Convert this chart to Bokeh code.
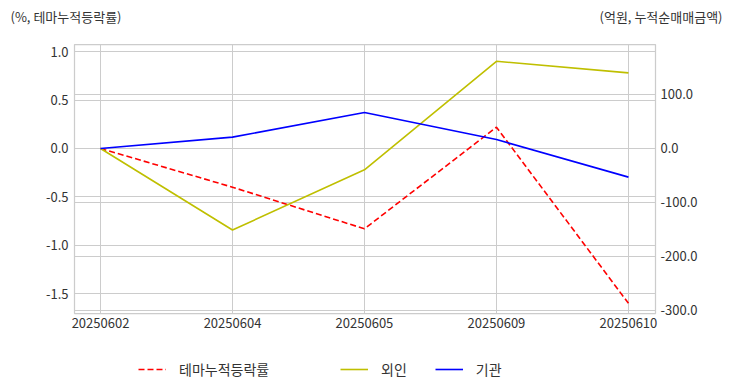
from bokeh.plotting import figure
from bokeh.layouts import column
from bokeh.models import (Range1d, LinearAxis, FixedTicker, Grid, Legend, LegendItem,
                          Label, NumeralTickFormatter, ColumnDataSource)
from bokeh.embed import file_html
from bokeh.resources import INLINE

# ---- data ----
dates = ["20250602", "20250604", "20250605", "20250609", "20250610"]
theme_ret = [0.0, -0.40, -0.83, 0.22, -1.60]        # 테마누적등락률 (%), left axis
foreign = [0.0, -151.0, -39.5, 161.5, 140.0]        # 외인 (억원), right axis
institution = [0.0, 21.0, 66.5, 16.5, -53.0]        # 기관 (억원), right axis
left_ticks = [-1.5, -1.0, -0.5, 0.0, 0.5, 1.0]
right_ticks = [-300, -200, -100, 0, 100]
left_title = "(%, 테마누적등락률)"
right_title = "(억원, 누적순매매금액)"
series_names = ["테마누적등락률", "외인", "기관"]
series_colors = ["#ff0000", "#bfbf00", "#0000ff"]
series_dash = ["6 3", "solid", "solid"]

FONT = "Noto Sans CJK KR"
TXT = "#333333"
GRID = "#cccccc"
W = 732

def strip(height):
    f = figure(width=W, height=height, output_backend="svg", toolbar_location=None,
               x_range=Range1d(0, 1), y_range=Range1d(0, 1),
               x_axis_type=None, y_axis_type=None, min_border=0,
               outline_line_color=None, border_fill_color="white",
               background_fill_color="white")
    f.frame_align = False
    f.grid.visible = False
    return f

# ---------------- top strip: axis titles ----------------
p_top = strip(40)
p_top.add_layout(Label(x=10, y=24, x_units="screen", y_units="screen", text=left_title,
                       text_font=FONT, text_font_size="13px", text_color=TXT,
                       text_baseline="middle", text_align="left"))
p_top.add_layout(Label(x=722, y=24, x_units="screen", y_units="screen", text=right_title,
                       text_font=FONT, text_font_size="13px", text_color=TXT,
                       text_baseline="middle", text_align="right"))

# ---------------- main chart ----------------
idx = list(range(len(dates)))
src = ColumnDataSource(dict(x=idx, theme=theme_ret, foreign=foreign, inst=institution))

p = figure(width=W, height=300, output_backend="svg", toolbar_location=None,
           x_range=Range1d(-0.197, len(dates) - 1 + 0.205),
           y_range=Range1d(-1.705, 1.074),
           min_border_left=74, min_border_right=77, min_border_top=4, min_border_bottom=27,
           background_fill_color="white", border_fill_color="white")
p.frame_align = False
p.extra_y_ranges = {"right": Range1d(-305.6, 192.6)}
p.outline_line_color = GRID
p.outline_line_width = 1.25

def style_axis(ax, standoff):
    ax.axis_line_color = None
    ax.major_tick_line_color = None
    ax.minor_tick_line_color = None
    ax.major_tick_out = 0
    ax.major_tick_in = 0
    ax.minor_tick_out = 0
    ax.minor_tick_in = 0
    ax.major_label_standoff = standoff
    ax.major_label_text_font = FONT
    ax.major_label_text_font_size = "13px"
    ax.major_label_text_color = TXT

xa = p.xaxis[0]
xa.ticker = FixedTicker(ticks=idx)
xa.major_label_overrides = {i: d for i, d in zip(idx, dates)}
style_axis(xa, 4)

ya = p.yaxis[0]
ya.ticker = FixedTicker(ticks=left_ticks)
ya.formatter = NumeralTickFormatter(format="0.0")
style_axis(ya, 6)

ra = LinearAxis(y_range_name="right", ticker=FixedTicker(ticks=right_ticks),
                formatter=NumeralTickFormatter(format="0.0"))
style_axis(ra, 5)
p.add_layout(ra, "right")

p.xgrid.grid_line_color = GRID
p.xgrid.ticker = FixedTicker(ticks=idx)
p.ygrid.grid_line_color = GRID
p.ygrid.ticker = FixedTicker(ticks=left_ticks)
p.add_layout(Grid(dimension=1, ticker=FixedTicker(ticks=right_ticks), y_range_name="right",
                  grid_line_color=GRID, grid_line_width=1))

p.line("x", "theme", source=src, line_color=series_colors[0], line_width=1.6,
       line_dash=series_dash[0])
p.line("x", "foreign", source=src, line_color=series_colors[1], line_width=1.6,
       y_range_name="right")
p.line("x", "inst", source=src, line_color=series_colors[2], line_width=1.6,
       y_range_name="right")

# ---------------- bottom strip: legend ----------------
p_leg = strip(52)
nan = float("nan")
leg_r = [p_leg.line(x=[nan], y=[nan], line_color=c, line_width=1.6, line_dash=d)
         for c, d in zip(series_colors, series_dash)]

def make_legend(items, loc):
    lg = Legend(items=items, location=loc, orientation="horizontal",
                glyph_width=28, glyph_height=20, label_height=20, label_standoff=13,
                spacing=28, padding=0, margin=0,
                border_line_color=None, background_fill_alpha=0,
                label_text_font=FONT, label_text_font_size="14px", label_text_color=TXT)
    p_leg.add_layout(lg)

make_legend([LegendItem(label=series_names[0], renderers=[leg_r[0]])], (138, 13))
make_legend([LegendItem(label=series_names[1], renderers=[leg_r[1]]),
             LegendItem(label=series_names[2], renderers=[leg_r[2]])], (340, 13))

layout = column(p_top, p, p_leg, spacing=0)
open("out.html", "w").write(file_html(layout, INLINE))
